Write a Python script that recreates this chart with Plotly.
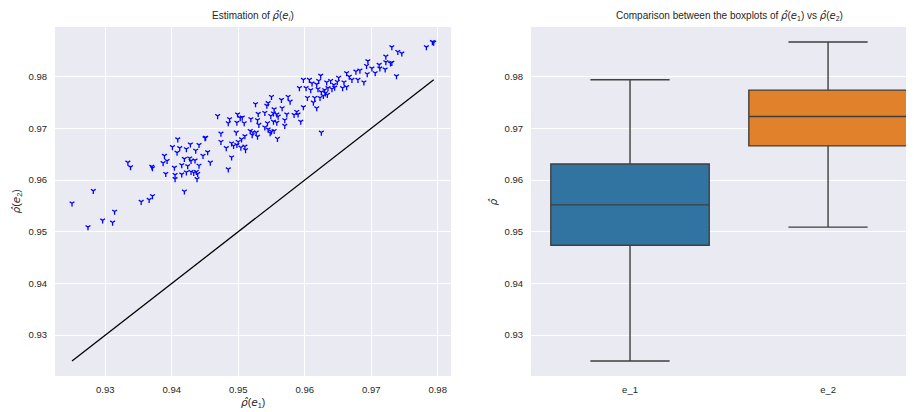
import plotly.graph_objects as go

# ---- data ----
e1 = [0.9334, 0.9338, 0.9370, 0.9371, 0.9282, 0.9250, 0.9354, 0.9366, 0.9371, 0.9314,
      0.9296, 0.9311, 0.9274,
      0.9469, 0.9474, 0.9474, 0.9409, 0.9401, 0.9412, 0.9422, 0.9428, 0.9441, 0.9450,
      0.9451, 0.9436, 0.9408, 0.9454, 0.9447, 0.9389, 0.9393, 0.9387, 0.9419, 0.9427,
      0.9429, 0.9435, 0.9415, 0.9424, 0.9441, 0.9458, 0.9404, 0.9391, 0.9405, 0.9405,
      0.9415, 0.9422, 0.9429, 0.9433, 0.9437, 0.9439, 0.9438, 0.9419,
      0.9550, 0.9575, 0.9526, 0.9545, 0.9543, 0.9565, 0.9578, 0.9554, 0.9566, 0.9540,
      0.9530, 0.9553, 0.9558, 0.9549, 0.9560, 0.9584, 0.9573, 0.9570, 0.9553, 0.9558,
      0.9544, 0.9529, 0.9531, 0.9519, 0.9499, 0.9503, 0.9506, 0.9487, 0.9485, 0.9498,
      0.9509, 0.9570, 0.9540, 0.9545, 0.9550, 0.9554, 0.9548, 0.9518, 0.9522, 0.9527,
      0.9521, 0.9529, 0.9559, 0.9497, 0.9510, 0.9505, 0.9490, 0.9500, 0.9498, 0.9504,
      0.9510, 0.9511, 0.9493, 0.9482, 0.9490, 0.9485,
      0.9663, 0.9667, 0.9671, 0.9659, 0.9651, 0.9649, 0.9644, 0.9639, 0.9633, 0.9598,
      0.9607, 0.9611, 0.9618, 0.9621, 0.9624, 0.9592, 0.9602, 0.9609, 0.9620, 0.9625,
      0.9630, 0.9635, 0.9641, 0.9645, 0.9657, 0.9663, 0.9631, 0.9634, 0.9628, 0.9623,
      0.9615, 0.9604, 0.9613, 0.9618, 0.9598, 0.9588, 0.9590, 0.9594, 0.9625,
      0.9792, 0.9794, 0.9783, 0.9731, 0.9740, 0.9746, 0.9722, 0.9722, 0.9729, 0.9731,
      0.9695, 0.9693, 0.9712, 0.9713, 0.9701, 0.9721, 0.9683, 0.9677, 0.9694, 0.9706,
      0.9738, 0.9680, 0.9689]

e2 = [0.9634, 0.9625, 0.9626, 0.9623, 0.9579, 0.9555, 0.9558, 0.9562, 0.9569, 0.9539,
      0.9522, 0.9518, 0.9509,
      0.9724, 0.9690, 0.9674, 0.9679, 0.9664, 0.9662, 0.9660, 0.9669, 0.9668, 0.9681,
      0.9682, 0.9657, 0.9653, 0.9654, 0.9647, 0.9647, 0.9637, 0.9633, 0.9641, 0.9642,
      0.9637, 0.9638, 0.9629, 0.9627, 0.9628, 0.9634, 0.9624, 0.9612, 0.9610, 0.9602,
      0.9611, 0.9615, 0.9616, 0.9614, 0.9616, 0.9612, 0.9602, 0.9578,
      0.9761, 0.9761, 0.9747, 0.9749, 0.9744, 0.9755, 0.9752, 0.9737, 0.9739, 0.9730,
      0.9728, 0.9729, 0.9727, 0.9724, 0.9723, 0.9726, 0.9727, 0.9716, 0.9713, 0.9711,
      0.9710, 0.9716, 0.9707, 0.9718, 0.9727, 0.9720, 0.9721, 0.9718, 0.9710, 0.9711,
      0.9710, 0.9705, 0.9702, 0.9698, 0.9694, 0.9695, 0.9691, 0.9695, 0.9692, 0.9692,
      0.9687, 0.9684, 0.9680, 0.9692, 0.9685, 0.9679, 0.9671, 0.9674, 0.9668, 0.9663,
      0.9665, 0.9658, 0.9666, 0.9662, 0.9644, 0.9621,
      0.9807, 0.9800, 0.9794, 0.9789, 0.9798, 0.9790, 0.9784, 0.9792, 0.9789, 0.9794,
      0.9794, 0.9787, 0.9785, 0.9792, 0.9802, 0.9778, 0.9778, 0.9774, 0.9776, 0.9770,
      0.9774, 0.9778, 0.9776, 0.9779, 0.9778, 0.9780, 0.9768, 0.9765, 0.9763, 0.9759,
      0.9759, 0.9759, 0.9750, 0.9739, 0.9741, 0.9732, 0.9727, 0.9713, 0.9692,
      0.9867, 0.9866, 0.9857, 0.9857, 0.9848, 0.9845, 0.9839, 0.9828, 0.9826, 0.9827,
      0.9830, 0.9821, 0.9823, 0.9816, 0.9816, 0.9814, 0.9812, 0.9810, 0.9805, 0.9807,
      0.9801, 0.9794, 0.9789]

diag = [0.9250, 0.9794]

box_names = ["e_1", "e_2"]
box_q1 = [0.9474, 0.9666]
box_median = [0.9552, 0.9723]
box_q3 = [0.9631, 0.9774]
box_low = [0.9250, 0.9509]
box_high = [0.9794, 0.9867]
box_colors = ["#3274A1", "#E1812C"]

# ---- figure ----
OFF = 8  # page body margin
W, H = 914 - OFF, 412 - OFF
FONT = "Liberation Sans, Arial, sans-serif"
TXT = "#262626"
BG = "#EAEAF2"

def px(xp):
    return (xp - OFF) / W

def py(yp):
    return 1 - (yp - OFF) / H

fig = go.Figure()

fig.add_trace(go.Scatter(
    x=e1, y=e2, mode="markers",
    marker=dict(symbol="y-down", size=4, color="blue",
                line=dict(color="blue", width=1.3)),
    xaxis="x", yaxis="y", showlegend=False, hoverinfo="x+y"))

fig.add_trace(go.Scatter(
    x=diag, y=diag, mode="lines",
    line=dict(color="black", width=1.3),
    xaxis="x", yaxis="y", showlegend=False))

for i, name in enumerate(box_names):
    fig.add_trace(go.Box(
        x=[name], q1=[box_q1[i]], median=[box_median[i]], q3=[box_q3[i]],
        lowerfence=[box_low[i]], upperfence=[box_high[i]],
        fillcolor=box_colors[i], line=dict(color="#3F3F3F", width=1.4),
        width=0.8, whiskerwidth=0.5, boxpoints=False,
        xaxis="x2", yaxis="y2", showlegend=False))

tickfont = dict(family=FONT, size=9.5, color=TXT)
ydom = [py(376), py(27)]

axis_common = dict(showgrid=True, gridcolor="white", gridwidth=1.2,
                   zeroline=False, showline=False, tickfont=tickfont,
                   ticks="outside", ticklen=5, tickcolor="rgba(0,0,0,0)",
                   automargin=False)

yticks = [0.93, 0.94, 0.95, 0.96, 0.97, 0.98]
ytext = ["0.93", "0.94", "0.95", "0.96", "0.97", "0.98"]

fig.update_layout(
    width=W, height=H,
    margin=dict(l=0, r=0, t=0, b=0),
    paper_bgcolor="white", plot_bgcolor=BG,
    showlegend=False,
    xaxis=dict(domain=[px(55), px(451)], range=[0.92244, 0.9820],
               tickvals=yticks, ticktext=ytext, anchor="y", **axis_common),
    yaxis=dict(domain=ydom, range=[0.9221, 0.9896],
               tickvals=yticks, ticktext=ytext, anchor="x", **axis_common),
    xaxis2=dict(domain=[px(531), 1.0], range=[-0.5, 1.434],
                type="category", categoryorder="array", categoryarray=box_names,
                anchor="y2", **{**axis_common, "showgrid": False}),
    yaxis2=dict(domain=ydom, range=[0.9221, 0.9896],
                tickvals=yticks, ticktext=ytext, anchor="x2", **axis_common),
)

M = '<span style="font-family:DejaVu Sans;font-style:italic">'
RHO = M + "ρ̂</span>"
def e(sub):
    return M + "e</span><sub>" + M + sub + "</span></sub>" if sub == "i" else M + "e</span><sub>" + sub + "</sub>"

title_font = dict(family=FONT, size=10, color=TXT)
label_font = dict(family=FONT, size=10.5, color=TXT)
ann = [
    dict(text="Estimation of " + RHO + "(" + e("i") + ")", x=px(253), y=py(16),
         font=title_font),
    dict(text="Comparison between the boxplots of " + RHO + "(" + e("1") + ") vs " + RHO + "(" + e("2") + ")",
         x=px(729), y=py(16), font=title_font),
    dict(text=RHO + "(" + e("1") + ")", x=px(253), y=py(403), font=label_font),
    dict(text=RHO + "(" + e("2") + ")", x=px(16), y=py(201.5), font=label_font,
         textangle=-90),
    dict(text=RHO, x=px(492), y=py(201.5), font=label_font, textangle=-90),
]
for a in ann:
    fig.add_annotation(xref="paper", yref="paper", showarrow=False,
                       xanchor="center", yanchor="middle", **a)

fig.write_html("out.html")
